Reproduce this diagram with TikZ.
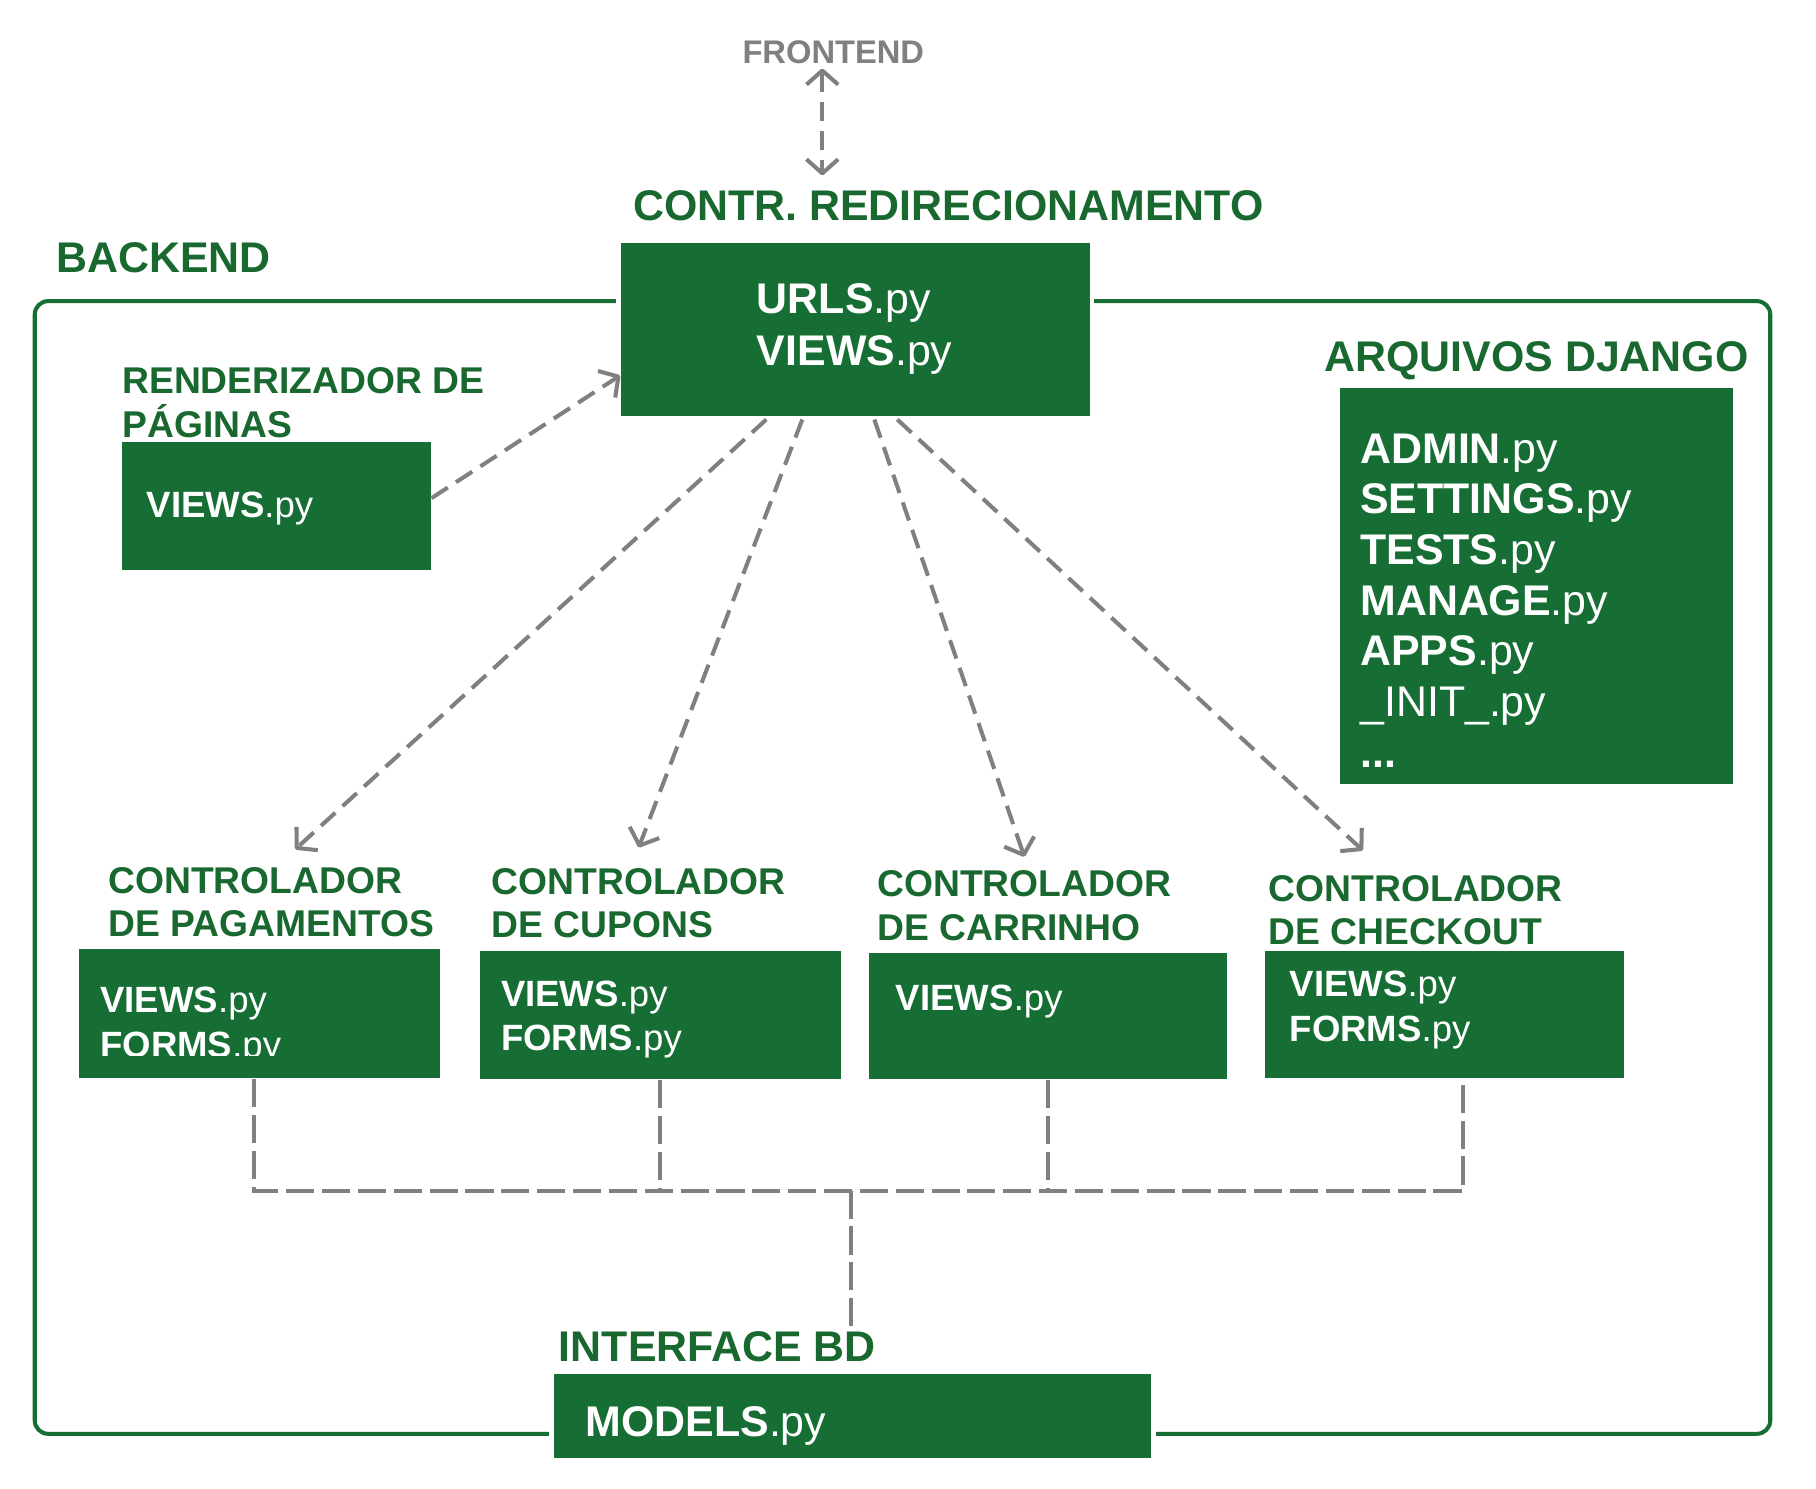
\documentclass[tikz,border=0pt]{standalone}
\usepackage{fontspec}
\setmainfont{Liberation Sans}
\usetikzlibrary{arrows.meta, fit}
\definecolor{boxgreen}{RGB}{22,110,52}
\definecolor{txtgreen}{RGB}{24,104,48}
\definecolor{linkgray}{RGB}{128,128,128}
\newcommand{\pyfile}[1]{\textbf{#1}.py}

\begin{document}
\begin{tikzpicture}[x=0.0115816cm,y=-0.0115816cm,
  box/.style={fill=boxgreen,inner sep=0pt,preaction={draw=white,line width=2.6pt}},
  title/.style={text=txtgreen,font=\bfseries\fontsize{12.2}{14.6}\selectfont,inner sep=0pt,anchor=north west},
  subtitle/.style={title,font=\bfseries\fontsize{10.6}{12.4}\selectfont,align=left},
  big/.style={text=white,font=\fontsize{12.2}{14.9}\selectfont,inner sep=0pt,anchor=north west,align=left},
  small/.style={big,font=\fontsize{10.4}{12.7}\selectfont},
  link/.style={draw=linkgray,line width=1.15pt,dash pattern=on 5.5pt off 2.8pt},
  bus/.style={link,dash pattern=on 8pt off 2.2pt},
  arrowed/.style={-{Straight Barb[length=4pt,width=9pt,line join=round]}},
  biarrowed/.style={{Straight Barb[length=4pt,width=9pt,line join=round]}-{Straight Barb[length=4pt,width=9pt,line join=round]}}]
  \path[fill=white,use as bounding box](0,0)rectangle(1568,1284.8);
  \draw[boxgreen,line width=1.15pt,rounded corners=3.8pt](30,260)rectangle(1528.5,1238);

  \node[title,font=\bfseries\fontsize{9.3}{11}\selectfont,text=linkgray](frontend)at(640.5,34.5){FRONTEND};
  \node[title](redir)at(546,163.5){CONTR. REDIRECIONAMENTO};
  \node[title](backend)at(48,209){BACKEND};
  \node[subtitle](rendtitle)at(105,317){RENDERIZADOR DE\\PÁGINAS};
  \node[title](djangotitle)at(1143,294){ARQUIVOS DJANGO};
  \node[subtitle](pagtitle)at(93,748){CONTROLADOR\\DE PAGAMENTOS};
  \node[subtitle](cuptitle)at(424,749){CONTROLADOR\\DE CUPONS};
  \node[subtitle](cartitle)at(757,751){CONTROLADOR\\DE CARRINHO};
  \node[subtitle](chktitle)at(1095,755){CONTROLADOR\\DE CHECKOUT};
  \node[title](dbtitle)at(482,1149){INTERFACE BD};

  \node[box,fit={(536,210)(941,359)}](main){};
  \node[box,fit={(105,382)(372,492)}](rend){};
  \node[box,fit={(1157,335)(1496,677)}](django){};
  \node[box,fit={(68,819.5)(380,931)}](pag){};
  \node[box,fit={(414.5,821)(726,932)}](cup){};
  \node[box,fit={(750,823)(1059,932)}](car){};
  \node[box,fit={(1092,821)(1402,931)}](chk){};
  \node[box,fit={(478,1186)(994,1259)}](models){};

  \node[big](mainfiles)at(653,244){\pyfile{URLS}\\\pyfile{VIEWS}};
  \node[small](rendfiles)at(126,424){\pyfile{VIEWS}};
  \node[big,font=\fontsize{12.2}{14.4}\selectfont](djangofiles)at(1174,374){\pyfile{ADMIN}\\\pyfile{SETTINGS}\\\pyfile{TESTS}\\\pyfile{MANAGE}\\\pyfile{APPS}\\\_INIT\_.py\\\textbf{...}};
  \begin{scope}
    \clip(68,819.5)rectangle(380,911);
    \node[small](pagfiles)at(86,852){\pyfile{VIEWS}\\\pyfile{FORMS}};
  \end{scope}
  \node[small](cupfiles)at(432,846){\pyfile{VIEWS}\\\pyfile{FORMS}};
  \node[small](carfiles)at(773,850){\pyfile{VIEWS}};
  \node[small](chkfiles)at(1113,838){\pyfile{VIEWS}\\\pyfile{FORMS}};
  \node[big](modelsfiles)at(505,1214){\pyfile{MODELS}};

  \coordinate(fe)at([xshift=-1.1mm,yshift=-0.4mm]frontend.south);
  \draw[link,biarrowed,shorten >=1.4mm](fe)--(fe|-redir.north);
  \draw[link,arrowed]([yshift=0.8mm]rend.east)--([yshift=4.1mm]main.south west);
  \draw[link,arrowed]([xshift=-8.9mm,yshift=-0.3mm]main.south)--([xshift=2.4mm,yshift=1.7mm]pagtitle.north);
  \draw[link,arrowed]([xshift=-5.3mm,yshift=-0.3mm]main.south)--([yshift=2mm]cuptitle.north);
  \draw[link,arrowed]([xshift=1.9mm,yshift=-0.3mm]main.south)--([yshift=1.3mm]cartitle.north);
  \draw[link,arrowed]([xshift=4.2mm,yshift=-0.3mm]main.south)--([xshift=-5.3mm,yshift=2.4mm]chktitle.north);

  \coordinate(junction)at(735,1028);
  \coordinate(pagdrop)at([xshift=-0.5mm]pag.south);
  \coordinate(chkdrop)at([xshift=1.9mm]chk.south);
  \draw[bus](pagdrop)--(pagdrop|-junction)--(chkdrop|-junction)--(chkdrop);
  \draw[bus](cup.south)--(cup.south|-junction);
  \draw[bus](car.south)--(car.south|-junction);
  \draw[bus,shorten >=0.5mm](junction)--(junction|-dbtitle.north);
\end{tikzpicture}
\end{document}
